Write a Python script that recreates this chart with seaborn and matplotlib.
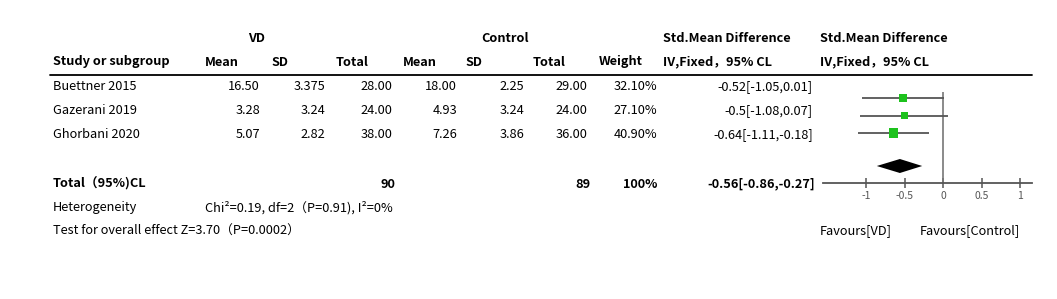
import numpy as np
import pandas as pd
import matplotlib
matplotlib.use("Agg")
import matplotlib.pyplot as plt
import seaborn as sns

# ---------------- data ----------------
studies = ["Buettner 2015", "Gazerani 2019", "Ghorbani 2020"]
vd_mean = [16.50, 3.28, 5.07]
vd_sd = [3.375, 3.24, 2.82]
vd_total = [28.00, 24.00, 38.00]
ctl_mean = [18.00, 4.93, 7.26]
ctl_sd = [2.25, 3.24, 3.86]
ctl_total = [29.00, 24.00, 36.00]
weights = [32.10, 27.10, 40.90]
smd = [-0.52, -0.5, -0.64]
ci_low = [-1.05, -1.08, -1.11]
ci_high = [0.01, 0.07, -0.18]
pooled_smd = -0.56
pooled_low = -0.86
pooled_high = -0.27
vd_sum = 90
ctl_sum = 89
total_weight = "100%"
heterogeneity = "Chi²=0.19, df=2（P=0.91), I²=0%"
overall = "Test for overall effect Z=3.70（P=0.0002）"
xticks = [-1, -0.5, 0, 0.5, 1]
xticklabels = ["-1", "-0.5", "0", "0.5", "1"]

# ---------------- style ----------------
sns.set_theme(style="white")
plt.rcParams['font.family'] = ['Noto Sans CJK SC', 'DejaVu Sans']

W, H = 1057, 299
fig = plt.figure(figsize=(W / 100, H / 100), dpi=100)
fig.patch.set_facecolor("white")

# full-figure layout axes in pixel units for the table
tab = fig.add_axes([0, 0, 1, 1])
tab.set_xlim(0, W)
tab.set_ylim(H, 0)
tab.axis("off")

FS = 9.2
def t(x, y, s, ha="left", bold=False, **kw):
    tab.text(x, y, s, ha=ha, va="center", fontsize=FS,
             fontweight="bold" if bold else "normal", color="black", **kw)

def fmt(v):
    return f"{v:.2f}" if round(v, 2) == v else f"{v}"

# headers
t(257, 38, "VD", ha="center", bold=True)
t(505, 38, "Control", ha="center", bold=True)
t(663, 38, "Std.Mean Difference", bold=True)
t(820, 38, "Std.Mean Difference", bold=True)
for x, s in [(53, "Study or subgroup"), (205, "Mean"), (271, "SD"), (336, "Total"),
             (403, "Mean"), (465, "SD"), (533, "Total"), (599, "Weight"),
             (663, "IV,Fixed，95% CL"), (820, "IV,Fixed，95% CL")]:
    t(x, 62, s, bold=True)
tab.plot([50, 1032], [75, 75], color="black", lw=1.3)

row_y = [87, 111, 135]
for i, y in enumerate(row_y):
    t(53, y, studies[i])
    t(260, y, fmt(vd_mean[i]), ha="right")
    t(325, y, fmt(vd_sd[i]), ha="right")
    t(392, y, fmt(vd_total[i]), ha="right")
    t(457, y, fmt(ctl_mean[i]), ha="right")
    t(524, y, fmt(ctl_sd[i]), ha="right")
    t(587, y, fmt(ctl_total[i]), ha="right")
    t(657, y, f"{weights[i]:.2f}%", ha="right")
    t(813, y, f"{smd[i]:g}[{ci_low[i]:g},{ci_high[i]:g}]", ha="right")

t(53, 184, "Total（95%)CL", bold=True)
t(395, 184, f"{vd_sum}", ha="right", bold=True)
t(591, 184, f"{ctl_sum}", ha="right", bold=True)
t(657, 184, total_weight, ha="right", bold=True)
t(815, 184, f"{pooled_smd:g}[{pooled_low:g},{pooled_high:g}]", ha="right", bold=True)
t(53, 208, "Heterogeneity")
t(205, 208, heterogeneity)
t(53, 231, overall)
t(820, 231, "Favours[VD]")
t(920, 231, "Favours[Control]")

# ---------------- forest plot axes ----------------
x0_px, x1_px = 823, 1032
y_top, y_bot = 92, 183
fa = fig.add_axes([x0_px / W, 1 - y_bot / H, (x1_px - x0_px) / W, (y_bot - y_top) / H])
fa.patch.set_alpha(0)
unit = 77.0
zero_px = 943
fa.set_xlim((x0_px - zero_px) / unit, (x1_px - zero_px) / unit)
row_step = 17.5
fa.set_ylim((y_bot - 98) / row_step, (y_top - 98) / row_step)

rows = np.arange(len(studies))
fa.hlines(rows, ci_low, ci_high, color="#555555", lw=1.3, zorder=2)
df = pd.DataFrame({"smd": smd, "row": rows, "w": weights})
sns.scatterplot(data=df, x="smd", y="row", size="w", sizes=(24, 44), marker="s",
                color="#1dc21d", edgecolor="none", legend=False, ax=fa, zorder=3)
fa.axvline(0, color="#777777", lw=1.2, zorder=1)

dy = 7 / row_step
dcy = (166 - 98) / row_step
fa.fill([pooled_low, pooled_smd, pooled_high, pooled_smd],
        [dcy, dcy - dy, dcy, dcy + dy], color="black", lw=0, zorder=3)

for s in ["top", "right", "left"]:
    fa.spines[s].set_visible(False)
fa.spines["bottom"].set_color("#555555")
fa.spines["bottom"].set_linewidth(1.3)
fa.set_yticks([])
fa.set_xticks(xticks)
fa.set_xticklabels(xticklabels)
fa.tick_params(axis="x", direction="inout", length=7, width=1.1, color="#555555",
               labelsize=7.5, labelcolor="#555555", pad=2, bottom=True)
fa.set_xlabel("")
fa.set_ylabel("")

fig.savefig("out.png", dpi=100, facecolor="white")
